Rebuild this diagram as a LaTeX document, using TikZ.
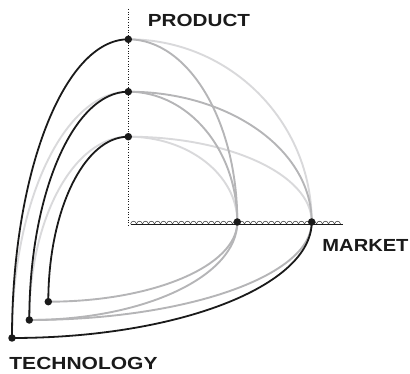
\documentclass[tikz,border=0pt]{standalone}
\usepackage{fontspec}
\usepackage{graphicx}
\setmainfont{Liberation Sans}
\definecolor{midgray}{HTML}{B5B5B7}
\definecolor{lightgray2}{HTML}{D9D9DB}
\definecolor{ink}{HTML}{1A1A1A}
\tikzset{
  blackcurve/.style={draw=ink, line width=1.8pt},
  midcurve/.style={draw=midgray, line width=1.9pt},
  lightcurve/.style={draw=lightgray2, line width=1.9pt},
  dotnode/.style={circle, fill=ink, inner sep=0pt, minimum size=7.5pt},
  lbl/.style={font=\fontsize{17.5}{20}\selectfont\bfseries, text=ink, inner sep=0pt},
}
\begin{document}
\begin{tikzpicture}[x=1pt,y=-1pt]
\useasboundingbox (0,0) rectangle (410,374);
% points
\coordinate (P1) at (128.3,39.3);
\coordinate (P2) at (128.3,91.7);
\coordinate (P3) at (128.3,136.7);
\coordinate (M1) at (237.3,222);
\coordinate (M2) at (311.7,222);
\coordinate (T1) at (12,338);
\coordinate (T2) at (29.3,320);
\coordinate (T3) at (48.3,301.7);
\coordinate (ax0) at (128.3,9);
\coordinate (ax1) at (128.3,225);
\coordinate (hx0) at (130.5,224);
\coordinate (hx1) at (343,224);
% axes
\draw[ink, line width=0.6pt, dotted] (ax0) -- (ax1);
\draw[ink, line width=0.45pt] (hx0) -- (hx1);
\foreach \x in {130.5,136.5,...,338} {
  \draw[ink, line width=0.45pt] (\x,224) .. controls (\x+0.4,220.3) and (\x+5.6,220.3) .. (\x+6,224);
}
% light curves
\draw[lightcurve] (P1) .. controls +(101.3,0) and +(0,-100.9) .. (M2);
\draw[lightcurve] (P3) .. controls +(60.2,0) and +(0,-47.1) .. (M1);
\draw[lightcurve] (P3) .. controls +(101.3,0) and +(0,-47.1) .. (M2);
\draw[lightcurve] (T1) .. controls +(0,-136) and +(-64.2,0) .. (P2);
\draw[lightcurve] (T2) .. controls +(0,-101.2) and +(-54.7,0) .. (P3);
% medium curves
\draw[midcurve] (P1) .. controls +(60.2,0) and +(0,-100.9) .. (M1);
\draw[midcurve] (P2) .. controls +(60.2,0) and +(0,-72) .. (M1);
\draw[midcurve] (P2) .. controls +(101.3,0) and +(0,-72) .. (M2);
\draw[midcurve] (T2) .. controls +(114.9,0) and +(0,54.1) .. (M1);
\draw[midcurve] (T2) .. controls +(156,0) and +(0,54.1) .. (M2);
\draw[midcurve] (T3) .. controls +(104.4,0) and +(0,44) .. (M1);
% black curves
\draw[blackcurve] (T1) .. controls +(0,-165) and +(-64.2,0) .. (P1);
\draw[blackcurve] (T2) .. controls +(0,-126.1) and +(-54.7,0) .. (P2);
\draw[blackcurve] (T3) .. controls +(0,-91.1) and +(-44.2,0) .. (P3);
\draw[blackcurve] (T1) .. controls +(165.5,0) and +(0,64.1) .. (M2);
% dots
\foreach \p in {P1,P2,P3,M1,M2,T1,T2,T3} {
  \node[dotnode] (d\p) at (\p) {};
}
% labels
\node[lbl] (product) at (199,20) {\scalebox{1.18}[1]{PRODUCT}};
\node[lbl] (market) at (365.5,245) {\scalebox{1.15}[1]{MARKET}};
\node[lbl] (technology) at (83.5,363) {\scalebox{1.2}[1]{TECHNOLOGY}};
\end{tikzpicture}
\end{document}
